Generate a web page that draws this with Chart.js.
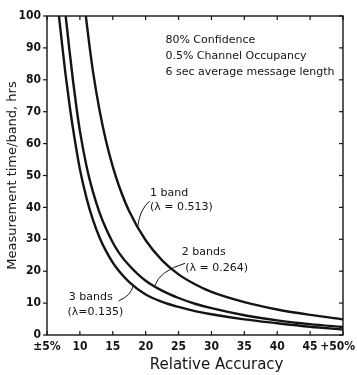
<!DOCTYPE html>
<html>
<head>
<meta charset="utf-8">
<script src="https://cdn.jsdelivr.net/npm/chart.js@4.4.0/dist/chart.umd.min.js"></script>
<style>
  html, body { margin: 0; padding: 0; background: #fff; }
  #wrap { width: 357px; height: 375px; }
</style>
</head>
<body>
<div id="wrap"><canvas id="c"></canvas></div>
<script>
// ---------- data ----------
const xTicks = [5, 10, 15, 20, 25, 30, 35, 40, 45, 50];
const yTicks = [0, 10, 20, 30, 40, 50, 60, 70, 80, 90, 100];

const band1X = [10.9, 11.5, 12, 13, 14, 15, 16, 17.5, 20, 22.5, 25, 27.5, 30, 35, 40, 45, 50];
const band1Y = [100, 90, 82.5, 70.3, 60.6, 52.8, 46.4, 38.8, 29.7, 23.4, 19, 15.9, 13.5, 10.3, 8.0, 6.3, 4.9];

const band2X = [7.84, 8.4, 9, 9.5, 10, 11, 12, 13, 14, 15, 16, 17.5, 20, 22.5, 25, 27.5, 30, 35, 40, 45, 50];
const band2Y = [100, 89.5, 79, 71, 64, 53, 44.8, 38.3, 33.2, 29, 25.6, 21.8, 17, 13.9, 11.6, 9.8, 8.4, 6.2, 4.6, 3.4, 2.5];

const band3X = [6.82, 7.3, 7.8, 8.5, 9.2, 10, 11, 12, 13, 14, 15, 16, 17.5, 20, 22.5, 25, 27.5, 30, 35, 40, 45, 50];
const band3Y = [100, 91, 82, 71, 61.5, 52, 43, 36, 30.5, 26.2, 22.7, 19.9, 16.6, 12.7, 10.4, 8.8, 7.5, 6.5, 4.9, 3.7, 2.6, 1.7];

// text notes: [text, x, y] in data units (left aligned)
const notes = [
  ['80% Confidence', 23.0, 92.5],
  ['0.5% Channel Occupancy', 23.0, 87.5],
  ['6 sec average message length', 23.0, 82.5],
  ['1 band', 20.65, 44.5],
  ['(\u03bb = 0.513)', 20.65, 40.0],
  ['2 bands', 25.5, 26.0],
  ['(\u03bb = 0.264)', 26.0, 21.0],
  ['3 bands', 8.3, 11.8],
  ['(\u03bb=0.135)', 8.1, 7.2],
];
// leader lines: [fromX, fromY, toX, toY]
const leaders = [
  [20.6, 42.0, 18.8, 34.0],
  [26.0, 22.5, 21.4, 15.5],
  [15.9, 10.7, 18.1, 15.4],
];

const xTitle = 'Relative Accuracy';

function pts(xs, ys){ return xs.map((x,i)=>({x:x, y:ys[i]})); }

const INK = '#141414';

const framePlugin = {
  id: 'frame',
  afterDraw(chart){
    const ctx = chart.ctx;
    const a = chart.chartArea;
    const sx = chart.scales.x, sy = chart.scales.y;
    ctx.save();
    ctx.strokeStyle = INK;
    ctx.lineWidth = 1.4;
    ctx.strokeRect(a.left, a.top, a.right - a.left, a.bottom - a.top);
    ctx.lineWidth = 1.2;
    function seg(x1,y1,x2,y2){ ctx.beginPath(); ctx.moveTo(x1,y1); ctx.lineTo(x2,y2); ctx.stroke(); }
    xTicks.forEach(v=>{
      const px = sx.getPixelForValue(v);
      seg(px, a.bottom, px, a.bottom-4);
      seg(px, a.top, px, a.top+4);
    });
    yTicks.forEach(v=>{
      const py = sy.getPixelForValue(v);
      seg(a.left-4, py, a.left, py);
      seg(a.right, py, a.right-4, py);
    });

    // notes
    ctx.fillStyle = INK;
    ctx.font = '11px "DejaVu Sans", sans-serif';
    ctx.textAlign = 'left';
    ctx.textBaseline = 'middle';
    notes.forEach(n=>{
      ctx.fillText(n[0], sx.getPixelForValue(n[1]), sy.getPixelForValue(n[2]));
    });

    // x axis title, sits a little right of centre in the original
    ctx.font = '15px "DejaVu Sans", sans-serif';
    ctx.textAlign = 'center';
    ctx.fillText(xTitle, a.left + (a.right - a.left) * 0.573, a.bottom + 30);

    // leaders
    ctx.lineWidth = 1;
    leaders.forEach(l=>{
      const x1 = sx.getPixelForValue(l[0]), y1 = sy.getPixelForValue(l[1]);
      const x2 = sx.getPixelForValue(l[2]), y2 = sy.getPixelForValue(l[3]);
      ctx.beginPath();
      ctx.moveTo(x1, y1);
      ctx.quadraticCurveTo(x2 + (x1-x2)*0.15, y1 + (y2-y1)*0.35, x2, y2);
      ctx.stroke();
    });
    ctx.restore();
  }
};

function lineSet(label, xs, ys){
  return {
    label: label,
    data: pts(xs, ys),
    showLine: true,
    borderColor: INK,
    borderWidth: 2.4,
    pointRadius: 0,
    cubicInterpolationMode: 'monotone',
    clip: 0
  };
}

new Chart(document.getElementById('c'), {
  type: 'scatter',
  data: {
    datasets: [
      lineSet('1 band', band1X, band1Y),
      lineSet('2 bands', band2X, band2Y),
      lineSet('3 bands', band3X, band3Y)
    ]
  },
  options: {
    responsive: true,
    maintainAspectRatio: false,
    animation: false,
    layout: { padding: { left: 0, right: 14, top: 16, bottom: 0 } },
    plugins: { legend: { display: false }, tooltip: { enabled: false } },
    scales: {
      x: {
        type: 'linear', min: 5, max: 50,
        afterBuildTicks: s => { s.ticks = xTicks.map(v=>({value:v})); },
        afterFit: s => { s.height = 40; s.paddingLeft = 0; s.paddingRight = 0; },
        grid: { display: false, drawTicks: false },
        border: { display: false },
        ticks: {
          color: INK, padding: 5, maxRotation: 0, autoSkip: false,
          font: { family: '"DejaVu Sans Condensed", "DejaVu Sans", sans-serif', size: 12, weight: 'bold' },
          // the last label is pulled left so it stays on the canvas, as in the original
          callback: v => v === 5 ? '\u00b15%' : (v === 50 ? '+50%\u2003' : String(v))
        }
      },
      y: {
        type: 'linear', min: 0, max: 100,
        afterBuildTicks: s => { s.ticks = yTicks.map(v=>({value:v})); },
        afterFit: s => { s.width = 47; s.paddingTop = 0; s.paddingBottom = 0; },
        grid: { display: false, drawTicks: false },
        border: { display: false },
        ticks: {
          color: INK, padding: 6,
          font: { family: '"DejaVu Sans Condensed", "DejaVu Sans", sans-serif', size: 12, weight: 'bold' }
        },
        title: {
          display: true, text: 'Measurement time/band, hrs', color: INK,
          padding: { top: 5, bottom: 0 },
          font: { family: '"DejaVu Sans", sans-serif', size: 13 }
        }
      }
    }
  },
  plugins: [framePlugin]
});
</script>
</body>
</html>
